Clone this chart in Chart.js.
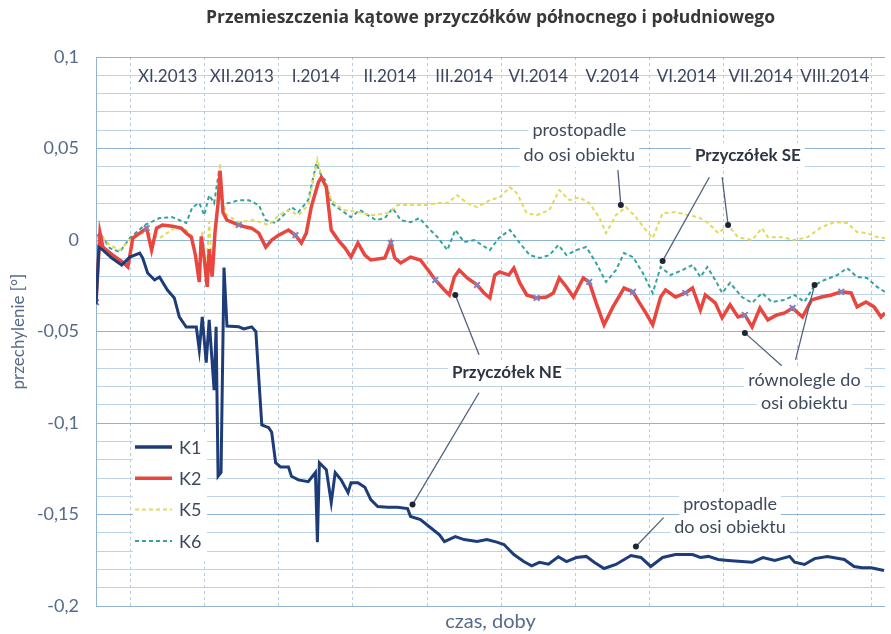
<!DOCTYPE html>
<html>
<head>
<meta charset="utf-8">
<script src="https://cdn.jsdelivr.net/npm/chart.js"></script>
<style>
  html, body { margin: 0; padding: 0; background: #fff; }
  #wrap { width: 891px; height: 634px; }
</style>
</head>
<body>
<div id="wrap"><canvas id="tiltChart"></canvas></div>
<script>
// Month names written across the top of the plot (as in the original figure)
const monthLabels = ['XI.2013', 'XII.2013', 'I.2014', 'II.2014', 'III.2014', 'VI.2014', 'V.2014', 'VI.2014', 'VII.2014', 'VIII.2014'];
const monthMid = [29, 59, 89, 119, 149, 179, 209, 239, 269, 299];       // days
const monthEdges = [14, 44, 74, 104, 134, 164, 194, 224, 254, 284, 314]; // days

// K1 - przyczółek NE, prostopadle
const k1Days = [0, 1.2, 2.8, 6.4, 10.4, 13.7, 17.7, 18.9, 20.9, 23.7, 25.7, 28.9, 31.7, 33.7, 36.5,
  40.6, 41.8, 43.0, 44.6, 45.8, 47.8, 48.6, 49.4, 50.6, 51.8, 53.0, 57.8, 59.8, 63.0, 64.7,
  65.9, 67.1, 69.9, 71.1, 72.7, 74.7, 77.9, 79.1, 81.9, 85.9, 88.8, 89.6, 90.4, 93.2, 95.2,
  96.8, 99.2, 102.0, 103.2, 106.0, 108.8, 111.2, 114.0, 118.0, 122.0, 126.1, 127.3, 131.3, 135.3, 139.0,
  141.0, 145.4, 149.0, 154.2, 158.2, 162.2, 165.1, 169.1, 173.1, 176.3, 179.5, 183.1, 187.1, 190.4, 194.4,
  198.4, 201.6, 205.6, 210.4, 216.5, 220.5, 224.5, 229.3, 234.5, 241.4, 244.6, 247.8, 251.8, 255.8, 261.4,
  265.5, 269.9, 274.7, 280.7, 282.7, 286.7, 290.8, 296.0, 302.8, 306.8, 310.0, 313.7, 318.9];
const k1Vals = [-0.035, -0.004, -0.0055, -0.0098, -0.0136, -0.0093, -0.0071, -0.0098, -0.018, -0.0218, -0.0202, -0.0273, -0.0316, -0.042, -0.0475,
  -0.0475, -0.060, -0.042, -0.067, -0.0436, -0.082, -0.0474, -0.129, -0.127, -0.015, -0.047, -0.0474, -0.0485, -0.0474, -0.050,
  -0.076, -0.101, -0.1025, -0.105, -0.1216, -0.124, -0.124, -0.129, -0.131, -0.132, -0.127, -0.165, -0.1216, -0.1254, -0.1434,
  -0.127, -0.131, -0.138, -0.1325, -0.1325, -0.135, -0.1418, -0.1456, -0.146, -0.146, -0.1467, -0.151, -0.1527, -0.157, -0.161,
  -0.1647, -0.162, -0.1636, -0.1647, -0.1636, -0.165, -0.1663, -0.1718, -0.1756, -0.178, -0.176, -0.177, -0.173, -0.1756, -0.1734,
  -0.1728, -0.176, -0.1794, -0.1772, -0.1723, -0.1734, -0.1783, -0.1734, -0.1718, -0.1718, -0.1734, -0.1728, -0.1745, -0.175, -0.1756,
  -0.176, -0.1734, -0.175, -0.1728, -0.176, -0.1772, -0.174, -0.1728, -0.1745, -0.1783, -0.179, -0.179, -0.1805];

// K2 - przyczółek NE, równolegle
const k2Days = [0, 1.6, 2.8, 6.8, 10.8, 12.9, 14.9, 17.7, 20.5, 22.5, 24.5, 26.9, 30.9, 34.5, 36.5,
  38.6, 40.2, 41.8, 42.6, 43.8, 45.0, 45.8, 47.0, 48.2, 49.4, 50.2, 51.4, 53.0, 55.0, 57.8,
  60.6, 63.0, 65.9, 68.7, 71.1, 73.9, 77.9, 80.7, 83.1, 85.1, 87.1, 90.0, 91.2, 93.2, 95.2,
  98.0, 100.8, 103.2, 106.0, 108.8, 111.2, 116.9, 119.3, 120.9, 123.3, 127.3, 131.3, 135.3, 137.3, 141.0,
  143.0, 145.0, 147.0, 150.2, 154.2, 157.0, 159.4, 161.4, 163.4, 167.1, 169.1, 171.5, 174.3, 178.3, 182.3,
  185.1, 187.5, 190.4, 193.2, 197.2, 199.6, 202.4, 205.6, 209.2, 213.7, 217.3, 219.7, 222.5, 225.3, 228.5,
  230.5, 234.5, 238.5, 241.4, 244.6, 246.6, 250.6, 253.4, 256.6, 259.8, 262.6, 265.5, 268.7, 271.9, 275.5,
  278.7, 281.9, 285.9, 289.6, 293.6, 297.6, 301.6, 305.6, 308.0, 311.6, 314.9, 317.7, 319.3];
const k2Vals = [-0.034, 0.004, -0.0038, -0.0082, -0.012, -0.0147, 0.0011, 0.0038, 0.0065, -0.0055, 0.0065, 0.0082, 0.0076, 0.0065, 0.0038,
  0.0016, -0.008, -0.0229, 0.002, -0.010, -0.0256, -0.005, -0.020, 0.005, 0.020, 0.038, 0.015, 0.0109, 0.0098, 0.0082,
  0.0071, 0.0065, 0.0038, -0.0038, 0.0, 0.0027, 0.0055, 0.0027, -0.0016, 0.0038, 0.018, 0.0316, 0.0343, 0.0289, 0.0055,
  0.0, -0.0044, -0.0093, -0.0016, -0.0082, -0.0109, -0.0098, -0.0016, -0.0098, -0.0125, -0.0093, -0.0109, -0.018, -0.0218, -0.0273,
  -0.030, -0.0202, -0.0164, -0.0207, -0.0245, -0.0289, -0.0316, -0.0191, -0.0174, -0.0191, -0.0153, -0.0234, -0.030, -0.0316, -0.0311,
  -0.0289, -0.0207, -0.0256, -0.0311, -0.0207, -0.0229, -0.0343, -0.0463, -0.0365, -0.0262, -0.0283, -0.0338, -0.0398, -0.0463, -0.0311,
  -0.0273, -0.0311, -0.0289, -0.0262, -0.0382, -0.030, -0.0343, -0.0425, -0.0354, -0.042, -0.0409, -0.0474, -0.0371, -0.0436, -0.0409,
  -0.0398, -0.0371, -0.042, -0.0327, -0.0311, -0.030, -0.0283, -0.0289, -0.0365, -0.0338, -0.0365, -0.042, -0.0398];
// days where the K2 line carries a small cross marker
const k2MarkerDays = [0, 20.5, 57.8, 80.7, 119.3, 137.3, 154.2, 178.3, 199.6, 217.3, 238.5, 262.6, 281.9, 301.6];

// K5 - przyczółek SE, prostopadle
const k5Days = [0.4, 1.6, 5.6, 9.6, 13.7, 19.7, 25.7, 31.7, 36.5, 39.0, 41.8, 43.0, 44.6, 45.8, 47.0,
  48.6, 50.2, 51.4, 53.0, 57.8, 63.9, 69.9, 73.9, 77.9, 81.9, 85.9, 89.6, 91.2, 93.2, 95.2,
  100.0, 106.0, 112.0, 118.1, 122.1, 128.1, 134.1, 138.2, 142.2, 146.2, 150.2, 154.2, 159.4, 163.4, 167.5,
  170.3, 174.3, 178.3, 183.5, 187.5, 191.6, 195.6, 199.6, 203.6, 206.4, 210.4, 214.5, 218.5, 222.5, 225.3,
  229.3, 234.5, 239.8, 243.8, 247.8, 251.8, 255.8, 259.8, 265.5, 269.5, 271.9, 277.5, 282.7, 288.0, 293.6,
  298.8, 304.0, 308.0, 312.0, 316.1, 319.3];
const k5Vals = [0.001, 0.0027, -0.0027, -0.0055, 0.0, 0.0044, 0.0011, 0.0065, 0.0055, 0.002, -0.022, 0.005, -0.020, 0.010, -0.015,
  0.010, 0.042, 0.020, 0.0136, 0.0098, 0.0109, 0.0082, 0.0136, 0.0164, 0.0136, 0.0191, 0.044, 0.035, 0.030, 0.0218,
  0.0164, 0.0153, 0.0136, 0.0147, 0.0191, 0.0191, 0.0191, 0.0202, 0.0202, 0.0245, 0.0202, 0.018, 0.0218, 0.0234, 0.0289,
  0.0256, 0.0147, 0.0136, 0.0164, 0.0273, 0.0218, 0.0234, 0.0202, 0.0125, 0.0038, 0.0136, 0.018, 0.0125, 0.0055, 0.0011,
  0.0147, 0.0153, 0.0136, 0.0125, 0.0093, 0.0038, 0.0082, 0.0016, 0.0, 0.0065, 0.0016, 0.0016, 0.0, 0.0016, 0.0071,
  0.0098, 0.0093, 0.0044, 0.0038, 0.0016, 0.0011];

// K6 - przyczółek SE, równolegle
const k6Days = [0.4, 1.6, 5.6, 9.6, 13.7, 19.7, 25.7, 30.9, 36.5, 39.0, 41.8, 43.8, 45.8, 47.8, 49.8,
  51.4, 53.8, 57.8, 61.8, 65.9, 68.7, 72.7, 76.7, 79.1, 81.9, 85.9, 89.2, 91.2, 92.8, 95.2,
  99.2, 103.2, 106.8, 110.0, 113.3, 116.9, 120.1, 123.3, 127.3, 130.9, 134.1, 138.2, 142.2, 145.4, 149.0,
  153.0, 156.2, 159.4, 163.0, 167.5, 171.5, 175.5, 179.5, 183.5, 187.1, 190.4, 194.4, 198.4, 202.4, 206.4,
  210.4, 213.7, 217.3, 221.3, 225.3, 228.5, 232.5, 237.3, 241.4, 244.6, 247.4, 250.6, 253.4, 256.6, 261.4,
  265.5, 269.5, 273.5, 278.7, 282.7, 286.7, 290.8, 294.8, 300.0, 304.0, 308.0, 312.0, 316.1, 319.3];
const k6Vals = [0.002, 0.0038, -0.0044, -0.0065, 0.0011, 0.0082, 0.012, 0.0125, 0.0093, 0.018, 0.0202, 0.0136, 0.0245, 0.0202, 0.038,
  0.020, 0.0202, 0.0218, 0.0218, 0.0191, 0.0109, 0.0093, 0.0147, 0.018, 0.0153, 0.0218, 0.042, 0.035, 0.0327, 0.0202,
  0.0164, 0.0125, 0.0164, 0.0136, 0.0109, 0.012, 0.0174, 0.0109, 0.0098, 0.012, 0.0071, 0.0016, -0.0055, 0.0055, -0.0011,
  0.0, -0.0027, -0.0055, 0.0011, 0.0055, -0.0016, -0.0082, -0.0098, -0.0082, -0.0027, -0.0082, -0.0055, -0.0038, -0.0125, -0.0229,
  -0.0164, -0.0071, -0.0093, -0.018, -0.0289, -0.0147, -0.0191, -0.0164, -0.0136, -0.0202, -0.0147, -0.0218, -0.0289, -0.0234, -0.0311,
  -0.0343, -0.0289, -0.0338, -0.0327, -0.030, -0.0338, -0.0245, -0.0218, -0.0191, -0.0153, -0.0202, -0.0207, -0.0256, -0.0283];

const FONT = "Lato, 'Open Sans', sans-serif";
const TEXT = '#3e4a5c';
const AXIS_TEXT = '#566b8a';

const toXY = (days, vals) => days.map((d, i) => ({ x: d, y: vals[i] }));

// callouts: text blocks and leader lines with a dot at the data end (in data units)
const notes = [
  { lines: ['prostopadle', 'do osi obiektu'], x: 195.6, y: [0.060, 0.0464], bold: false,
    arrows: [[211.2, 0.0382, 212.4, 0.0191]] },
  { lines: ['Przyczółek SE'], x: 263.8, y: [0.0464], bold: true,
    arrows: [[248.2, 0.0343, 229.3, -0.0114], [253.4, 0.0343, 255.8, 0.0082]] },
  { lines: ['Przyczółek NE'], x: 166.3, y: [-0.0725], bold: true,
    arrows: [[155.0, -0.0627, 145.4, -0.030], [155.0, -0.0834, 128.1, -0.1445]] },
  { lines: ['równolegle do', 'osi obiektu'], x: 286.7, y: [-0.0763, -0.0889], bold: false,
    arrows: [[277.5, -0.0687, 262.6, -0.0507], [283.1, -0.0654, 290.8, -0.0245]] },
  { lines: ['prostopadle', 'do osi obiektu'], x: 256.6, y: [-0.1445, -0.157], bold: false,
    arrows: [[229.7, -0.1516, 218.5, -0.1674]] }
];

const legendItems = [
  { label: 'K1', color: '#1d3c78', width: 3.5, dash: [] },
  { label: 'K2', color: '#e8463e', width: 3.5, dash: [] },
  { label: 'K5', color: '#e2da5e', width: 2, dash: [4, 3] },
  { label: 'K6', color: '#36a39b', width: 2, dash: [4, 3] }
];

const overlay = {
  id: 'overlay',
  afterDatasetsDraw(chart) {
    const { ctx, chartArea: area, scales: { x, y } } = chart;
    ctx.save();

    // month names along the top
    ctx.font = '17px ' + FONT;
    ctx.fillStyle = '#3b4760';
    ctx.textAlign = 'center';
    ctx.textBaseline = 'middle';
    monthLabels.forEach((m, i) => {
      ctx.fillText(m, x.getPixelForValue(monthMid[i]), y.getPixelForValue(0.0895));
    });

    // leader lines
    ctx.strokeStyle = '#50627e';
    ctx.fillStyle = '#1e2533';
    ctx.lineWidth = 1.3;
    notes.forEach(n => n.arrows.forEach(a => {
      const x1 = x.getPixelForValue(a[0]), y1 = y.getPixelForValue(a[1]);
      const x2 = x.getPixelForValue(a[2]), y2 = y.getPixelForValue(a[3]);
      ctx.beginPath(); ctx.moveTo(x1, y1); ctx.lineTo(x2, y2); ctx.stroke();
      ctx.beginPath(); ctx.arc(x2, y2, 3, 0, Math.PI * 2); ctx.fill();
    }));

    // callout texts on white
    notes.forEach(n => {
      ctx.font = (n.bold ? 'bold 17px ' : '18px ') + FONT;
      const cx = x.getPixelForValue(n.x);
      n.lines.forEach((t, i) => {
        const cy = y.getPixelForValue(n.y[i]);
        const w = ctx.measureText(t).width;
        ctx.fillStyle = '#ffffff';
        ctx.fillRect(cx - w / 2 - 4, cy - 12, w + 8, 24);
        ctx.fillStyle = n.bold ? '#2e3542' : TEXT;
        ctx.fillText(t, cx, cy);
      });
    });

    // legend box inside the plot
    const lx = area.left + 37, ly = area.top + 376;
    ctx.fillStyle = '#ffffff';
    ctx.fillRect(lx, ly, 74, 126);
    ctx.font = '18px ' + FONT;
    ctx.textAlign = 'left';
    legendItems.forEach((it, i) => {
      const yy = area.top + 390 + i * 31.3;
      ctx.strokeStyle = it.color;
      ctx.lineWidth = it.width;
      ctx.setLineDash(it.dash);
      ctx.beginPath(); ctx.moveTo(area.left + 39, yy); ctx.lineTo(area.left + 76, yy); ctx.stroke();
      ctx.setLineDash([]);
      ctx.fillStyle = TEXT;
      ctx.fillText(it.label, area.left + 83, yy + 1);
    });
    ctx.restore();
  }
};

const isMajor = v => Math.round(v * 100) % 5 === 0;

const ctx = document.getElementById('tiltChart').getContext('2d');

const tiltChart = new Chart(ctx, {
  type: 'line',
  data: {
    datasets: [
      {
        label: 'K1',
        data: toXY(k1Days, k1Vals),
        borderColor: '#1d3c78',
        borderWidth: 3,
        pointRadius: 0
      },
      {
        label: 'K2',
        data: toXY(k2Days, k2Vals),
        borderColor: '#e8463e',
        borderWidth: 3.5,
        pointStyle: 'crossRot',
        pointRadius: c => (c.raw && k2MarkerDays.includes(c.raw.x)) ? 4 : 0,
        pointBorderColor: '#7c84c2',
        pointBorderWidth: 2
      },
      {
        label: 'K5',
        data: toXY(k5Days, k5Vals),
        borderColor: '#e2da5e',
        borderWidth: 2,
        borderDash: [4, 3],
        pointRadius: 0
      },
      {
        label: 'K6',
        data: toXY(k6Days, k6Vals),
        borderColor: '#36a39b',
        borderWidth: 2,
        borderDash: [4, 3],
        pointRadius: 0
      }
    ]
  },
  options: {
    responsive: true,
    maintainAspectRatio: false,
    animation: false,
    layout: { padding: 0 },
    plugins: {
      legend: { display: false },
      tooltip: { enabled: false },
      title: {
        display: true,
        fullSize: false,
        text: 'Przemieszczenia kątowe przyczółków północnego i południowego',
        color: '#383838',
        font: { family: "'Open Sans', Lato, sans-serif", size: 17.5, weight: 'bold', lineHeight: 1.2 },
        padding: { top: 8, bottom: 28 }
      }
    },
    scales: {
      x: {
        type: 'linear',
        min: 0,
        max: 319.3,
        afterBuildTicks: s => { s.ticks = monthEdges.map(v => ({ value: v })); },
        afterFit: s => { s.height = 27; },
        ticks: { display: false },
        grid: { color: '#b5cde4', lineWidth: 1, drawTicks: false, borderDash: [3, 3] },
        border: { display: false, dash: [3, 3] },
        title: {
          display: true,
          text: 'czas, doby',
          color: AXIS_TEXT,
          font: { family: FONT, size: 20, lineHeight: 1.2 },
          padding: { top: 0, bottom: 0 }
        }
      },
      y: {
        min: -0.2,
        max: 0.1,
        afterFit: s => { s.width = 96; },
        ticks: {
          stepSize: 0.01,
          autoSkip: false,
          color: AXIS_TEXT,
          font: { family: FONT, size: 18 },
          padding: 17,
          callback: v => isMajor(v) ? String(Math.round(v * 100) / 100).replace('.', ',') : ''
        },
        grid: {
          drawTicks: false,
          color: c => isMajor(c.tick.value) ? '#8fb3d4' : '#bdd3e8',
          lineWidth: 1
        },
        border: { display: true, color: '#8fb3d4', width: 1 },
        title: {
          display: true,
          text: 'przechylenie [°]',
          color: AXIS_TEXT,
          font: { family: FONT, size: 17, lineHeight: 1.2 },
          padding: { top: 8, bottom: 0 }
        }
      }
    }
  },
  plugins: [overlay]
});
</script>
</body>
</html>
